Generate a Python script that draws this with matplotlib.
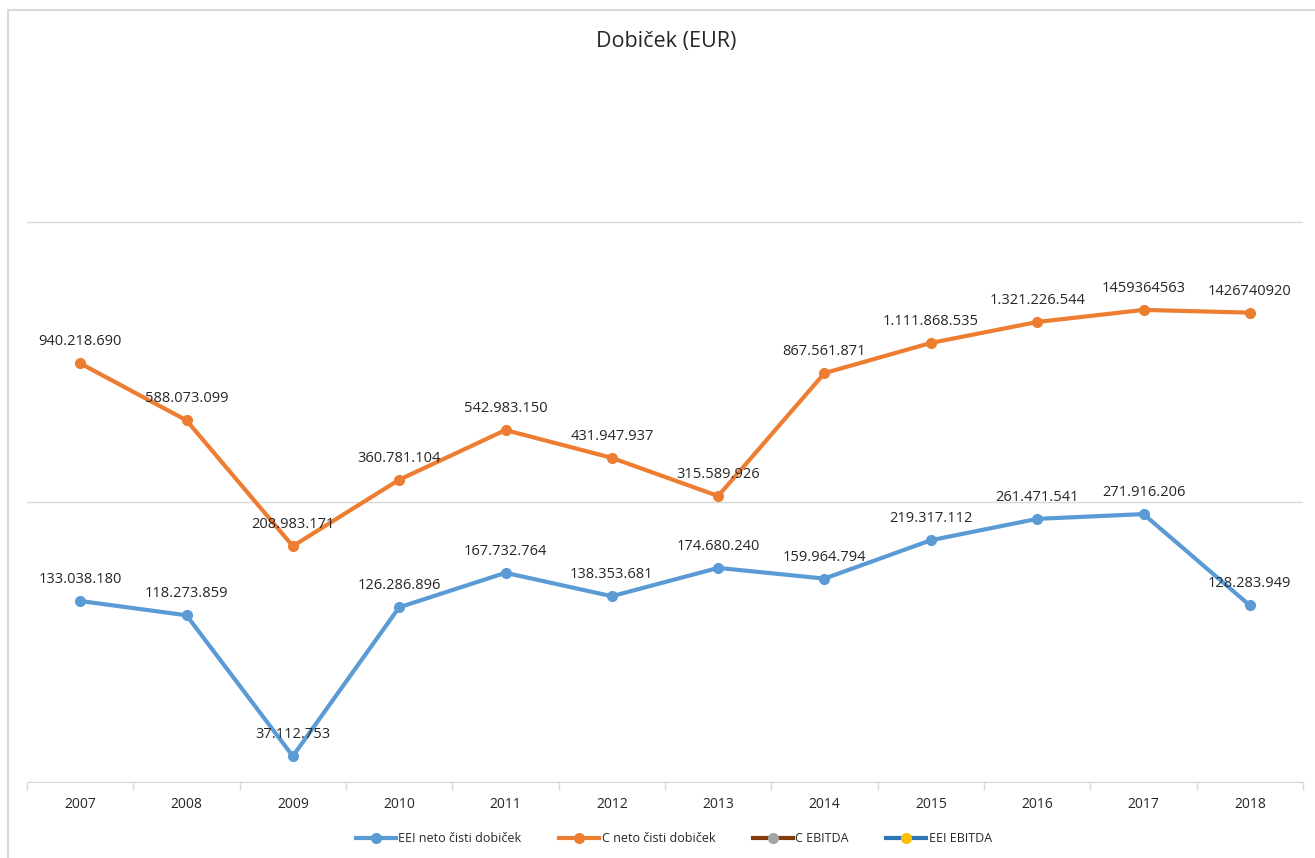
import matplotlib.pyplot as plt
from matplotlib.lines import Line2D
from matplotlib.patches import Rectangle

plt.rcParams['font.family'] = ['Open Sans', 'DejaVu Sans']

# Podatki
leta = ["2007", "2008", "2009", "2010", "2011", "2012",
        "2013", "2014", "2015", "2016", "2017", "2018"]
eei_neto = [133038180, 118273859, 37112753, 126286896, 167732764, 138353681,
            174680240, 159964794, 219317112, 261471541, 271916206, 128283949]
c_neto = [940218690, 588073099, 208983171, 360781104, 542983150, 431947937,
          315589926, 867561871, 1111868535, 1321226544, 1459364563, 1426740920]
# oznake kot v izvorni tabeli (zadnji dve brez pik)
eei_oznake = ["133.038.180", "118.273.859", "37.112.753", "126.286.896",
              "167.732.764", "138.353.681", "174.680.240", "159.964.794",
              "219.317.112", "261.471.541", "271.916.206", "128.283.949"]
c_oznake = ["940.218.690", "588.073.099", "208.983.171", "360.781.104",
            "542.983.150", "431.947.937", "315.589.926", "867.561.871",
            "1.111.868.535", "1.321.226.544", "1459364563", "1426740920"]

modra = "#5B9BD5"
oranzna = "#ED7D31"

fig = plt.figure(figsize=(13.15, 8.58), dpi=100)
ax = fig.add_axes([27 / 1315, 1 - 782 / 858, 1276 / 1315, 706 / 858])

x = list(range(len(leta)))
ax.plot(x, eei_neto, color=modra, lw=3, marker="o", ms=7, solid_capstyle="round")
ax.plot(x, c_neto, color=oranzna, lw=3, marker="o", ms=7, solid_capstyle="round")

for i in x:
    ax.annotate(eei_oznake[i], (i, eei_neto[i]), xytext=(0, 15.5), textcoords="offset points",
                ha="center", va="center", fontsize=10.5, color="#262626")
    ax.annotate(c_oznake[i], (i, c_neto[i]), xytext=(0, 15.5), textcoords="offset points",
                ha="center", va="center", fontsize=10.5, color="#262626")

ax.set_yscale("log")
ax.set_ylim(3e7, 1e10)
ax.set_xlim(-0.5, len(leta) - 0.5)
ax.set_yticks([3e7, 3e8, 3e9])
ax.set_yticklabels([])
ax.yaxis.set_minor_locator(plt.NullLocator())
ax.tick_params(axis="y", length=0)
ax.grid(axis="y", color="#D9D9D9", lw=1)
ax.set_axisbelow(True)

ax.set_xticks(x)
ax.set_xticklabels(leta, fontsize=10, color="#262626")
ax.tick_params(axis="x", length=0, pad=11)
ax.set_xticks([i - 0.5 for i in range(len(leta) + 1)], minor=True)
ax.tick_params(axis="x", which="minor", length=6, color="#D9D9D9", width=1)

for s in ["top", "right", "left"]:
    ax.spines[s].set_visible(False)
ax.spines["bottom"].set_color("#D9D9D9")

fig.text(666 / 1315, 1 - 41 / 858, "Dobiček (EUR)", ha="center", va="center",
         fontsize=15.5, color="#262626")

# okvir grafikona
fig.patches.append(Rectangle((8 / 1315, -0.01), 1.02, 1 - 10 / 858 + 0.01,
                             transform=fig.transFigure, fill=False,
                             edgecolor="#D9D9D9", lw=1.5))

rocaji = [
    Line2D([], [], color=modra, lw=3, marker="o", ms=7),
    Line2D([], [], color=oranzna, lw=3, marker="o", ms=7),
    Line2D([], [], color="#843C0C", lw=3, marker="o", ms=7, mfc="#A5A5A5", mec="#A5A5A5"),
    Line2D([], [], color="#2E75B6", lw=3, marker="o", ms=7, mfc="#FFC000", mec="#FFC000"),
]
imena = ["EEI neto čisti dobiček", "C neto čisti dobiček", "C EBITDA", "EEI EBITDA"]
fig.legend(rocaji, imena, loc="center", bbox_to_anchor=(674 / 1315, 1 - 839 / 858),
           ncol=4, frameon=False, fontsize=9, handlelength=3.2, columnspacing=3,
           handletextpad=0.2, labelcolor="#262626")

plt.savefig("out.png")
